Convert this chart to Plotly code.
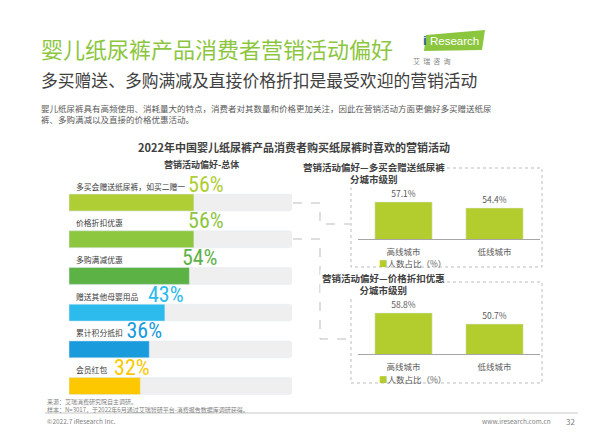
import plotly.graph_objects as go

W, H = 600, 438


def px(x):
    return x / W


def py(y):
    return 1 - y / H


# ---------------- data ----------------
categories = ["多买会赠送纸尿裤，如买二赠一", "价格折扣优惠", "多购满减优惠",
              "赠送其他母婴用品", "累计积分抵扣", "会员红包"]
values = [56, 56, 54, 43, 36, 32]
bar_colors = ["#afcd35", "#8dc63f", "#5db246", "#2cbbec", "#1a9bdc", "#fdc800"]

city_tiers = ["高线城市", "低线城市"]
buy_more_gift = [57.1, 54.4]
price_discount = [58.8, 50.7]

FONT = "Noto Sans CJK SC"
NARROW = "Roboto Condensed, Roboto, sans-serif"
GREEN_T = "#8cc63f"
CITY_GREEN = "#b3cd2e"

idx = list(range(len(categories)))

fig = go.Figure()

# left: overall preference bars
fig.add_trace(go.Bar(x=[100] * len(idx), y=idx, orientation="h", width=0.46,
                     marker=dict(color="#efefef", cornerradius=3),
                     hoverinfo="skip", xaxis="x", yaxis="y", showlegend=False))
fig.add_trace(go.Bar(x=values, y=idx, orientation="h", width=0.46,
                     marker=dict(color=bar_colors, cornerradius=3),
                     xaxis="x", yaxis="y", showlegend=False))
# big percentage labels (own label axis, as laid out in the reference)
fig.add_trace(go.Scatter(x=values, y=idx, mode="text", text=[f"{v}%" for v in values],
                         textposition="middle center",
                         textfont=dict(size=22, color=bar_colors, family=NARROW),
                         hoverinfo="skip", cliponaxis=False,
                         xaxis="x4", yaxis="y4", showlegend=False))

# right: city tier panels
fig.add_trace(go.Bar(x=city_tiers, y=buy_more_gift, width=0.63,
                     marker=dict(color=CITY_GREEN),
                     text=[f"{v:.1f}%" for v in buy_more_gift], textposition="outside",
                     textfont=dict(size=8.5, color="#595959", family=FONT),
                     cliponaxis=False, xaxis="x2", yaxis="y2", showlegend=False))
fig.add_trace(go.Bar(x=city_tiers, y=price_discount, width=0.63,
                     marker=dict(color=CITY_GREEN),
                     text=[f"{v:.1f}%" for v in price_discount], textposition="outside",
                     textfont=dict(size=8.5, color="#595959", family=FONT),
                     cliponaxis=False, xaxis="x3", yaxis="y3", showlegend=False))

ann = []

# category labels
for i, c in enumerate(categories):
    ann.append(dict(x=0, y=i, xref="x", yref="y", text=c, showarrow=False,
                    xanchor="left", yanchor="middle", xshift=5, yshift=16.5,
                    font=dict(size=7.8, color="#3a3a3a", family=FONT)))

# page texts
ann += [
    dict(x=px(39), y=py(48), text="婴儿纸尿裤产品消费者营销活动偏好", xanchor="left",
         font=dict(size=22, color=GREEN_T, family=FONT)),
    dict(x=px(39), y=py(80), text="多买赠送、多购满减及直接价格折扣是最受欢迎的营销活动", xanchor="left",
         font=dict(size=16.8, color="#404040", family=FONT)),
    dict(x=px(39), y=py(114), xanchor="left", align="left",
         text="婴儿纸尿裤具有高频使用、消耗量大的特点，消费者对其数量和价格更加关注，因此在营销活动方面更偏好多买赠送纸尿<br>裤、多购满减以及直接的价格优惠活动。",
         font=dict(size=8.5, color="#595959", family=FONT)),
    dict(x=px(294), y=py(147), text="<b>2022年中国婴儿纸尿裤产品消费者购买纸尿裤时喜欢的营销活动</b>",
         font=dict(size=11, color="#404040", family=FONT)),
    dict(x=px(162), y=py(165), text="<b>营销活动偏好-总体</b>",
         font=dict(size=9, color="#404040", family=FONT)),
    dict(x=px(447), y=py(173), text="<b>营销活动偏好—多买会赠送纸尿裤<br>分城市级别</b>",
         bgcolor="white", font=dict(size=9.5, color="#404040", family=FONT)),
    dict(x=px(447), y=py(284), text="<b>营销活动偏好—价格折扣优惠<br>分城市级别</b>",
         bgcolor="white", font=dict(size=9.5, color="#404040", family=FONT)),
    dict(x=px(448), y=py(262.5), text=f"<span style='color:{CITY_GREEN}'>■</span>人数占比（%）",
         font=dict(size=8.5, color="#595959", family=FONT)),
    dict(x=px(448), y=py(378.5), text=f"<span style='color:{CITY_GREEN}'>■</span>人数占比（%）",
         font=dict(size=8.5, color="#595959", family=FONT)),
    dict(x=px(45), y=py(401.5), xanchor="left", text="来源：艾瑞消费研究院自主调研。",
         font=dict(size=6, color="#7f7f7f", family=FONT)),
    dict(x=px(45), y=py(409), xanchor="left",
         text="样本：N=3017，于2022年6月通过艾瑞智研平台-消费报告数据库调研获得。",
         font=dict(size=6, color="#7f7f7f", family=FONT)),
    dict(x=px(45), y=py(421), xanchor="left", text="©2022.7 iResearch Inc.",
         font=dict(size=6.5, color="#7f7f7f", family=FONT)),
    dict(x=px(553), y=py(421), xanchor="right", text="www.iresearch.com.cn",
         font=dict(size=6.5, color="#7f7f7f", family=FONT)),
    dict(x=px(577), y=py(421), xanchor="right", text="32",
         font=dict(size=8, color="#7f7f7f", family=FONT)),
    # logo texts
    dict(x=px(421), y=py(41), xanchor="left", text="<b>i</b>",
         font=dict(size=13, color="#1f5ea8", family="Liberation Sans, Arial, sans-serif")),
    dict(x=px(428), y=py(41), xanchor="left", text="Research",
         font=dict(size=11.5, color="white", family="Liberation Sans, Arial, sans-serif")),
    dict(x=px(452), y=py(61), text="艾  瑞  咨  询",
         font=dict(size=7, color="#7f7f7f", family=FONT)),
]
for a in ann:
    a.setdefault("xref", "paper")
    a.setdefault("yref", "paper")
    a.setdefault("showarrow", False)
    a.setdefault("yanchor", "middle")

DASH = dict(color="#bdbdbd", width=1, dash="dot")
shapes = [
    # logo
    dict(type="path", xref="paper", yref="paper",
         path=f"M {px(426)},{py(35)} L {px(485)},{py(30)} L {px(482)},{py(50)} L {px(424)},{py(51)} Z",
         fillcolor=GREEN_T, line=dict(width=0), layer="above"),
    # panel boxes
    dict(type="rect", xref="paper", yref="paper", x0=px(351), x1=px(542), y0=py(168), y1=py(267),
         line=DASH, layer="below"),
    dict(type="rect", xref="paper", yref="paper", x0=px(351), x1=px(542), y0=py(282), y1=py(383),
         line=DASH, layer="below"),
    # connectors
    dict(type="path", xref="paper", yref="paper",
         path=f"M {px(293)},{py(203)} L {px(320)},{py(203)} L {px(320)},{py(224)} L {px(350)},{py(224)}",
         line=dict(color="#bdbdbd", width=1, dash="dash")),
    dict(type="path", xref="paper", yref="paper",
         path=f"M {px(293)},{py(239)} L {px(320)},{py(239)} L {px(320)},{py(339)} L {px(350)},{py(339)}",
         line=dict(color="#bdbdbd", width=1, dash="dash")),
    # footer rule
    dict(type="line", xref="paper", yref="paper", x0=px(45), x1=px(578), y0=py(413), y1=py(413),
         line=dict(color="#d9d9d9", width=1.5)),
]

hidden = dict(visible=False, fixedrange=True)
city_x = dict(showline=True, linecolor="#a6a6a6", linewidth=1, ticks="", showgrid=False,
              ticklabelstandoff=5,
              tickfont=dict(size=8.5, color="#595959", family=FONT), fixedrange=True)
city_y = dict(visible=False, fixedrange=True, showgrid=False, zeroline=False)

LBL_SHIFT = 16.5  # px the big labels sit above bar centres

fig.update_layout(
    width=W, height=H, margin=dict(l=0, r=0, t=0, b=0),
    paper_bgcolor="white", plot_bgcolor="rgba(0,0,0,0)",
    barmode="overlay", showlegend=False,
    font=dict(family=FONT),
    xaxis=dict(domain=[px(69), px(292)], range=[0, 100], **hidden),
    yaxis=dict(domain=[py(404.4), py(184.2)], range=[5.5, -0.5], **hidden),
    xaxis4=dict(domain=[px(33.4), px(341.4)], range=[0, 100], anchor="y4", **hidden),
    yaxis4=dict(domain=[py(404.4 - LBL_SHIFT), py(184.2 - LBL_SHIFT)], range=[5.5, -0.5],
                anchor="x4", **hidden),
    xaxis2=dict(domain=[px(358), px(540)], anchor="y2", **city_x),
    yaxis2=dict(domain=[py(239), py(190)], range=[40.4, 62.5], anchor="x2", **city_y),
    xaxis3=dict(domain=[px(358), px(540)], anchor="y3", **city_x),
    yaxis3=dict(domain=[py(354), py(300)], range=[28.6, 68.3], anchor="x3", **city_y),
    annotations=ann, shapes=shapes,
)

fig.write_html("out.html")
